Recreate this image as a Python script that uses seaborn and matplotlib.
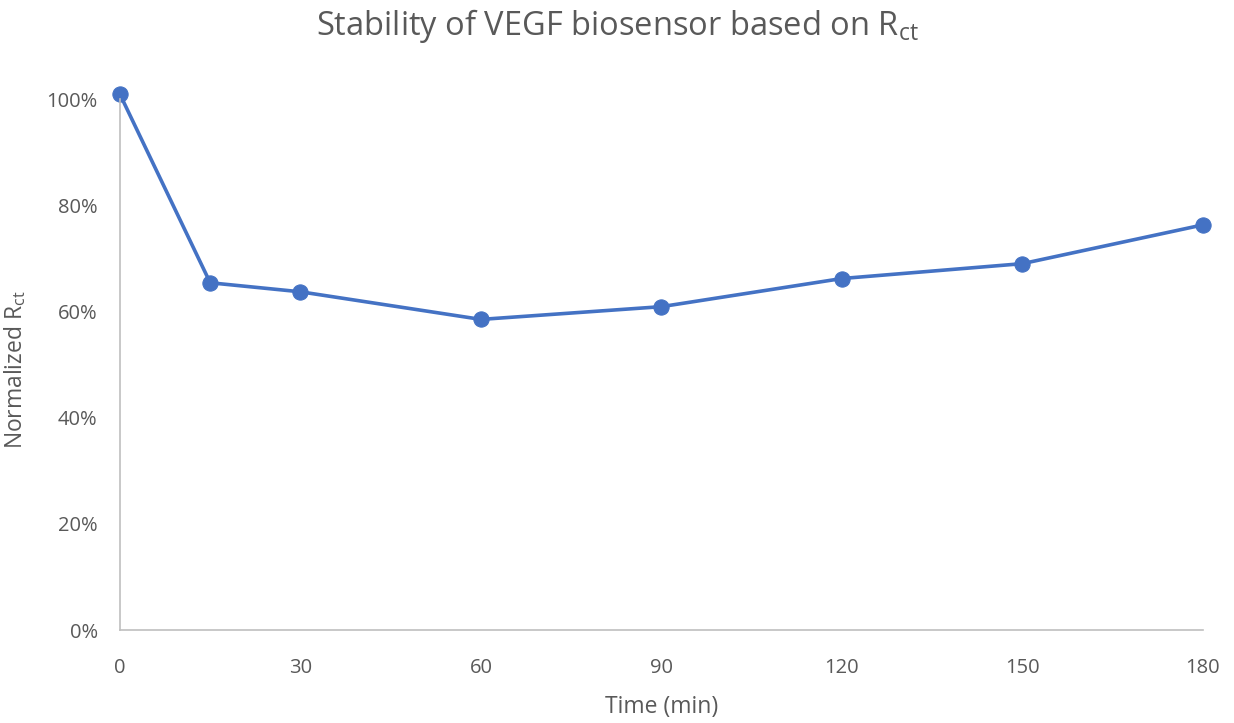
import matplotlib
matplotlib.use("Agg")
import matplotlib.pyplot as plt
import matplotlib.ticker as mtick
import seaborn as sns
import pandas as pd

# Data
time_min = [0, 15, 30, 60, 90, 120, 150, 180]
normalized_rct = [1.009, 0.654, 0.637, 0.585, 0.609, 0.662, 0.690, 0.763]
x_ticks = [0, 30, 60, 90, 120, 150, 180]
y_ticks = [0, 0.2, 0.4, 0.6, 0.8, 1.0]

df = pd.DataFrame({"time": time_min, "rct": normalized_rct})

sns.set_style("white")
plt.rcParams['font.family'] = ['Open Sans', 'DejaVu Sans']
text_color = "#595959"

fig = plt.figure(figsize=(12.34, 7.23), dpi=100)
ax = fig.add_axes([0.0972, 0.1286, 0.8776, 0.7344])

sns.lineplot(data=df, x="time", y="rct", ax=ax, color="#4472C4",
             linewidth=2.6, marker="o", markersize=11,
             markeredgecolor="#4472C4", clip_on=False)

ax.set_xlim(0, 180)
ax.set_ylim(0, 1.0)
ax.set_xticks(x_ticks)
ax.set_yticks(y_ticks)
ax.yaxis.set_major_formatter(mtick.PercentFormatter(1.0, decimals=0))
ax.tick_params(axis="both", length=0, labelsize=14.5, colors=text_color)
ax.tick_params(axis="x", pad=20)
ax.tick_params(axis="y", pad=16)

for side in ["top", "right"]:
    ax.spines[side].set_visible(False)
for side in ["left", "bottom"]:
    ax.spines[side].set_color("#BFBFBF")
    ax.spines[side].set_linewidth(1.2)

ax.set_xlabel("Time (min)", fontsize=16.5, color=text_color)
ax.set_ylabel(r"Normalized R$_{\mathregular{ct}}$", fontsize=16.5, color=text_color)
ax.xaxis.set_label_coords(0.5, -0.122)
ax.yaxis.set_label_coords(-0.085, 0.49)
fig.suptitle(r"Stability of VEGF biosensor based on R$_{\mathregular{ct}}$",
             fontsize=23.5, color=text_color, y=0.99)

fig.savefig("out.png", dpi=100)
